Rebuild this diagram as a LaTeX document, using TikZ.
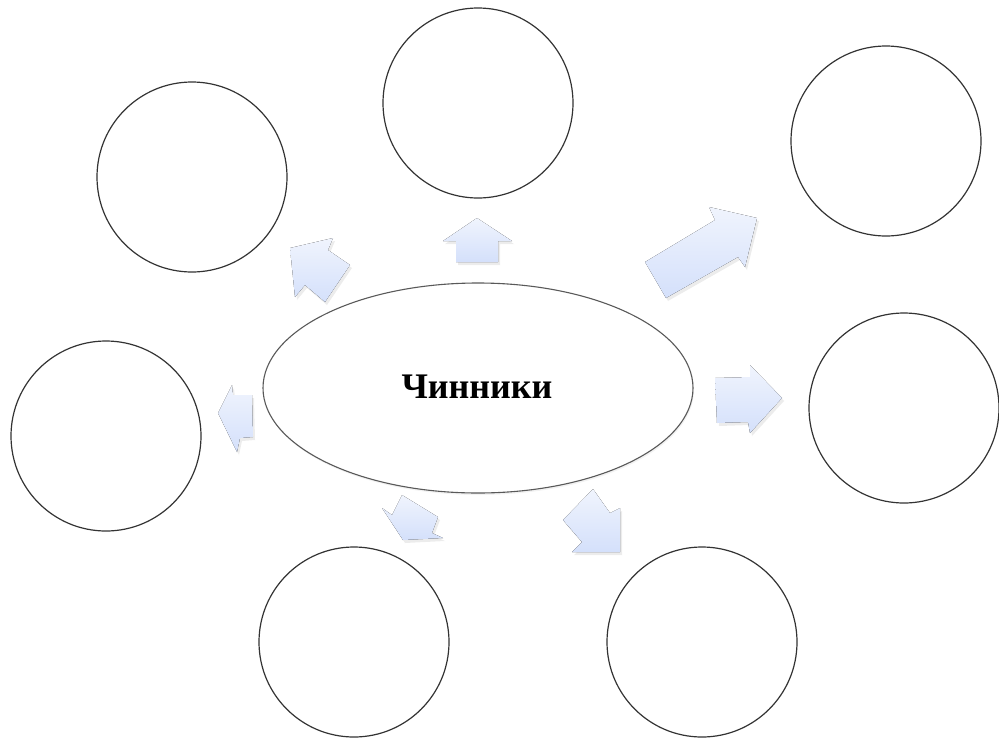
\documentclass[tikz,border=0pt]{standalone}
\usepackage{fontspec}
\setmainfont{Liberation Serif}
\usetikzlibrary{shadows,shapes.geometric}
\definecolor{arrtop}{RGB}{240,244,253}
\definecolor{arrbot}{RGB}{212,224,251}
\tikzset{
  ring/.style={circle, draw=black!80, line width=1.2pt, minimum size=190pt, inner sep=0pt},
  core/.style={ellipse, draw=black!65, line width=1.1pt, minimum width=430pt, minimum height=210pt, inner sep=0pt,
     drop shadow={opacity=0.10, shadow xshift=1pt, shadow yshift=-2pt}},
  blockarrow/.style={top color=arrtop, bottom color=arrbot, draw=none,
     drop shadow={opacity=0.15, shadow xshift=2pt, shadow yshift=-3pt}},
}
\begin{document}
\begin{tikzpicture}[x=1pt,y=-1pt]
\useasboundingbox (0,0) rectangle (999,745);
% circles
\node[ring] (ctop) at (478,103) {};
\node[ring] (ctl) at (192,177) {};
\node[ring] (ctr) at (886,141) {};
\node[ring] (cr) at (904,408) {};
\node[ring] (cl) at (106,436) {};
\node[ring] (cbl) at (354,642) {};
\node[ring] (cbr) at (702,642) {};
% central ellipse
\node[core, fill=white] (center) at (478,388) {};
\node[font=\bfseries\fontsize{36}{40}\selectfont] (label) at (477,387) {Чинники};
% arrows
\fill[blockarrow] (645,262) -- (715,220) -- (709,207) -- (757,218) -- (745,267) -- (738,257) -- (666,298) -- cycle;
\fill[blockarrow] (456,262) -- (456,241) -- (443,241) -- (477,218) -- (512,241) -- (498,241) -- (498,262) -- cycle;
\fill[blockarrow] (350,265) -- (328,250) -- (333,238) -- (290,248) -- (295,297) -- (305,285) -- (325,302) -- cycle;
\fill[blockarrow] (252,395) -- (233,395) -- (232,385) -- (218,413) -- (237,452) -- (240,438) -- (253,437) -- cycle;
\fill[blockarrow] (715,378) -- (750,377) -- (750,365) -- (782,398) -- (750,433) -- (748,422) -- (717,423) -- cycle;
\fill[blockarrow] (402,495) -- (392,515) -- (382,508) -- (403,540) -- (443,538) -- (432,533) -- (438,517) -- cycle;
\fill[blockarrow] (593,489) -- (610,513) -- (620,508) -- (620,552) -- (572,552) -- (582,542) -- (563,520) -- cycle;
\end{tikzpicture}
\end{document}
